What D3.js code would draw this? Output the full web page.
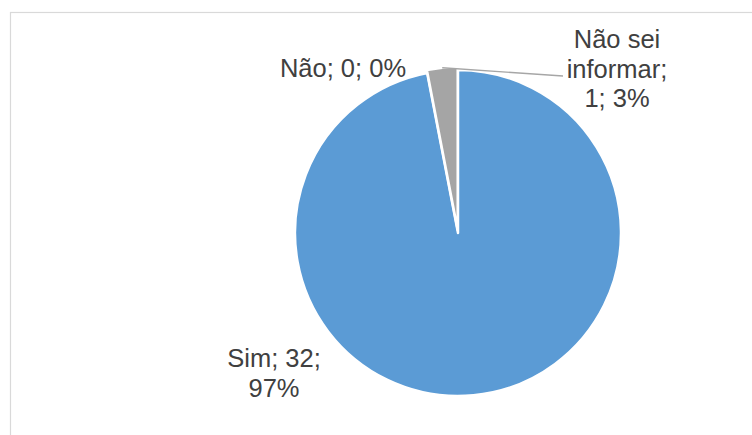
<!DOCTYPE html>
<html>
    <head>
        <script src="https://cdnjs.cloudflare.com/ajax/libs/d3/7.8.5/d3.min.js" type="text/JavaScript"></script>
    </head>
    <style>
        body { margin: 0; background: #ffffff; }
        svg { display: block; }
        .lbl { font-family: "Liberation Sans", Arial, sans-serif; font-size: 25.5px; fill: #404040; }
    </style>
    <body>
        <svg width="752" height="435"></svg>
        <script>
            var categories = ["Sim", "Não", "Não sei informar"];
            var values = [32, 0, 1];
            var colors = ["#5b9bd5", "#ed7d31", "#a5a5a5"];

            var svg = d3.select("svg");
            var cx = 458, cy = 233, r = 163;

            // chart frame
            svg.append("rect").attr("x", 10.5).attr("y", 12.5).attr("width", 760).attr("height", 440)
                .attr("fill", "none").attr("stroke", "#d9d9d9").attr("stroke-width", 1.2);

            var total = d3.sum(values);
            var data = categories.map((c, i) => ({ name: c, value: values[i], color: colors[i] }));

            const pie = d3.pie().sort(null).value((d) => d.value);
            const arc = d3.arc().innerRadius(0).outerRadius(r);
            var arcs = pie(data);

            var g = svg.append("g").attr("transform", "translate(" + cx + "," + cy + ")");

            // explode the small slice a little
            function offset(d) {
                if (d.data.name !== "Não sei informar") return [0, 0];
                var a = (d.startAngle + d.endAngle) / 2;
                return [3 * Math.sin(a), -3 * Math.cos(a)];
            }

            g.selectAll("path").data(arcs.filter((d) => d.value > 0)).enter().append("path")
                .attr("d", arc)
                .attr("transform", (d) => "translate(" + offset(d) + ")")
                .style("fill", (d) => d.data.color)
                .style("stroke", "#ffffff")
                .style("stroke-width", 2.5)
                .style("stroke-linejoin", "round");

            // leader line for "Não sei informar"
            var small = arcs[2];
            var mid = (small.startAngle + small.endAngle) / 2;
            var o = offset(small);
            svg.append("line")
                .attr("x1", cx + o[0] + r * Math.sin(mid)).attr("y1", cy + o[1] - r * Math.cos(mid))
                .attr("x2", 563).attr("y2", 76)
                .attr("stroke", "#a6a6a6").attr("stroke-width", 1.3);

            function pct(v) { return Math.round(v / total * 100) + "%"; }

            var labels = [
                { lines: [categories[0] + "; " + values[0] + ";", pct(values[0])], x: 274, y: 367 },
                { lines: [categories[1] + "; " + values[1] + "; " + pct(values[1])], x: 343, y: 77 },
                { lines: ["Não sei", "informar;", values[2] + "; " + pct(values[2])], x: 617, y: 48 }
            ];

            labels.forEach(function (l) {
                var t = svg.append("text").attr("class", "lbl").attr("text-anchor", "middle")
                    .attr("x", l.x).attr("y", l.y);
                l.lines.forEach(function (s, i) {
                    t.append("tspan").attr("x", l.x).attr("dy", i === 0 ? 0 : 29.5).text(s);
                });
            });
        </script>
    </body>
</html>
